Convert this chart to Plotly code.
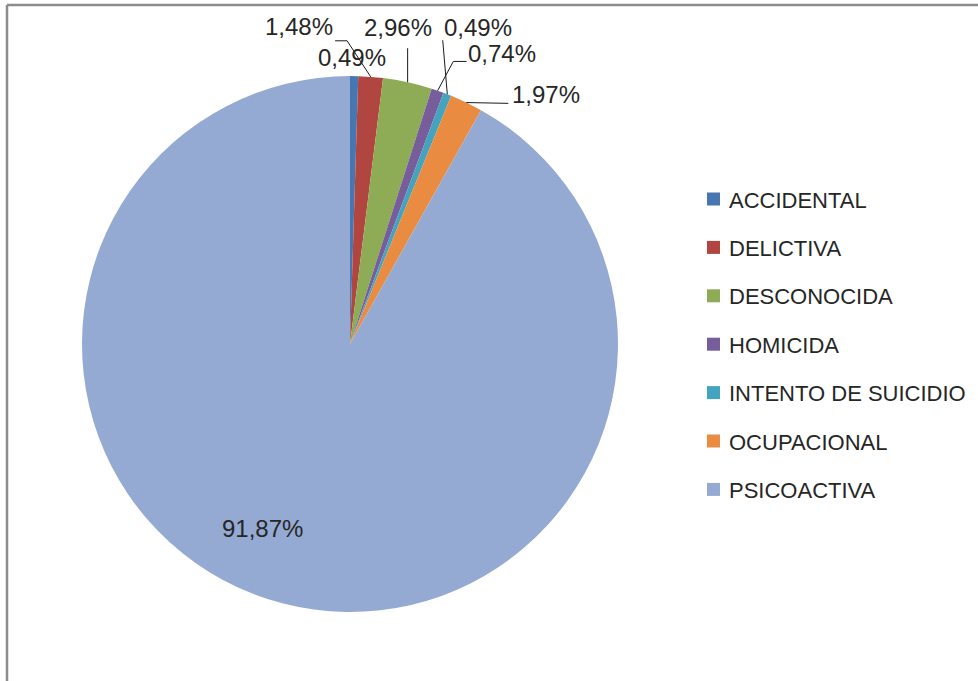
import math
import plotly.graph_objects as go

# ---------------- data ----------------
categories = ["ACCIDENTAL", "DELICTIVA", "DESCONOCIDA", "HOMICIDA",
              "INTENTO DE SUICIDIO", "OCUPACIONAL", "PSICOACTIVA"]
percentages = [0.49, 1.48, 2.96, 0.74, 0.49, 1.97, 91.87]

# ---------------- style ----------------
colors = ["#4677B2", "#B1453F", "#8DAC55", "#775D9A", "#44A3BD", "#E98B40", "#95AAD3"]
W, H = 978, 681
CX, CY, R = 350, 344, 268          # pie centre / radius in pixels
FONT = "Liberation Sans, Arial, sans-serif"
TXT = "#262626"
# label offset from the slice's arc midpoint (pixels) and leader-line path (relative points)
label_offsets = [(-2, -19), (-72, -50), (-10, -55), (64, -37), (31, -67), (80, -8), (-20, -75)]
leaders = [
    None,
    [(-23.6, -36), (-35.6, -36)],
    [(0, -34)],
    [(15.7, -29.3), (29, -29.3)],
    [(-4.6, -54)],
    [(42, 0.8)],
    None,
]


def px(x):
    return x / W


def py(y):
    return 1 - y / H


fig = go.Figure()
fig.add_trace(go.Pie(
    labels=categories,
    values=percentages,
    sort=False,
    direction="clockwise",
    rotation=0,
    marker=dict(colors=colors, line=dict(width=0)),
    textinfo="none",
    hoverinfo="label+percent",
    showlegend=False,
    domain=dict(x=[px(CX - R), px(CX + R)], y=[py(CY + R), py(CY - R)]),
))

total = sum(percentages)
annotations = []
shapes = []
cum = 0.0
for i, (cat, v) in enumerate(zip(categories, percentages)):
    mid = (cum + v / 2) / total * 2 * math.pi
    cum += v
    ax = CX + R * math.sin(mid)
    ay = CY - R * math.cos(mid)
    dx, dy = label_offsets[i]
    txt = f"{v / total * 100:.2f}%".replace(".", ",")
    annotations.append(dict(
        x=px(ax + dx), y=py(ay + dy), xref="paper", yref="paper",
        text=txt, showarrow=False, xanchor="center", yanchor="middle",
        font=dict(family=FONT, size=24, color=TXT),
    ))
    if leaders[i]:
        pts = [(ax, ay)] + [(ax + a, ay + b) for a, b in leaders[i]]
        for (x0, y0), (x1, y1) in zip(pts[:-1], pts[1:]):
            shapes.append(dict(type="line", xref="paper", yref="paper",
                               x0=px(x0), y0=py(y0), x1=px(x1), y1=py(y1),
                               line=dict(color="#1a1a1a", width=1)))

# manual legend
LEG_X, LEG_Y0, LEG_DY, SQ = 707, 199, 48.4, 13
for i, cat in enumerate(categories):
    yc = LEG_Y0 + i * LEG_DY
    shapes.append(dict(type="rect", xref="paper", yref="paper",
                       x0=px(LEG_X), x1=px(LEG_X + SQ),
                       y0=py(yc - SQ / 2), y1=py(yc + SQ / 2),
                       fillcolor=colors[i], line=dict(width=0)))
    annotations.append(dict(
        x=px(LEG_X + 20), y=py(yc + 1), xref="paper", yref="paper",
        text=cat, showarrow=False, xanchor="left", yanchor="middle",
        font=dict(family=FONT, size=22, color=TXT),
    ))

# chart frame (top & left visible)
frame = "#8C8C8C"
shapes.append(dict(type="line", xref="paper", yref="paper",
                   x0=px(7), y0=py(5), x1=1, y1=py(5), line=dict(color=frame, width=2.5)))
shapes.append(dict(type="line", xref="paper", yref="paper",
                   x0=px(7), y0=py(5), x1=px(7), y1=0, line=dict(color=frame, width=2.5)))

fig.update_layout(
    width=W, height=H,
    margin=dict(l=0, r=0, t=0, b=0),
    paper_bgcolor="white", plot_bgcolor="white",
    annotations=annotations, shapes=shapes,
    showlegend=False,
)

fig.write_html(
    "out.html",
    config={"displayModeBar": False},
    post_script="document.body.style.margin='0';document.body.style.overflow='hidden';",
)
